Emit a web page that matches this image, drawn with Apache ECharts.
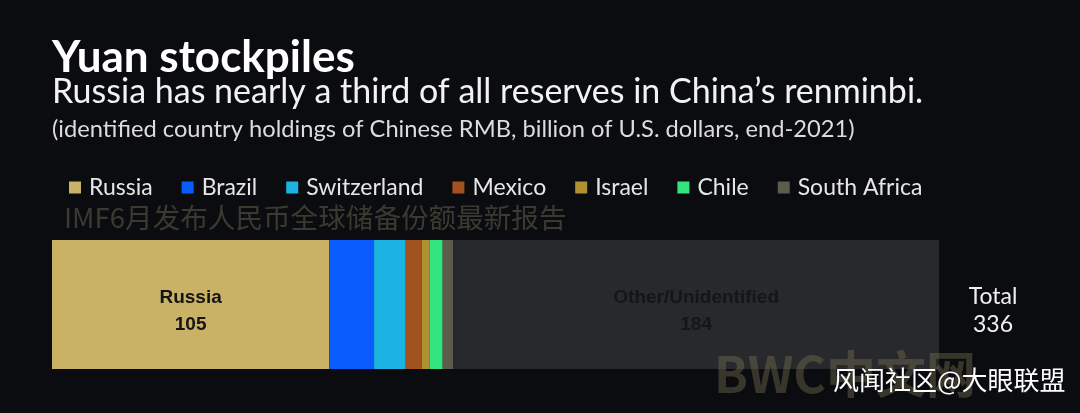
<!DOCTYPE html>
<html>
<head>
<meta charset="utf-8">
<script src="https://cdn.jsdelivr.net/npm/echarts@6/dist/echarts.min.js"></script>
<style>
html,body{margin:0;padding:0;background:#0b0c10;}
#chart{width:1080px;height:413px;}
</style>
</head>
<body>
<div id="chart"></div>
<script>
const categories = ['Russia', 'Brazil', 'Switzerland', 'Mexico', 'Israel', 'Chile', 'South Africa', 'Other/Unidentified'];
const values = [105, 17, 12, 6, 3, 5, 4, 184];
const colors = ['#c9b165', '#0b5cff', '#1bb3e3', '#a2521f', '#b1912f', '#34e57f', '#5d5b49', '#28292c'];
const legendNames = categories.slice(0, 7);
const titleText = 'Yuan stockpiles';
const subtitleText = 'Russia has nearly a third of all reserves in China\u2019s renminbi.';
const noteText = '(identified country holdings of Chinese RMB, billion of U.S. dollars, end-2021)';
const watermark1 = 'IMF6月发布人民币全球储备份额最新报告';
const watermark2 = 'BWC中文网';
const credit = '风闻社区@大眼联盟';

const total = values.reduce((a, b) => a + b, 0);
const FONT = 'Lato';

const series = categories.map((name, i) => {
  const s = {
    name: name,
    type: 'bar',
    stack: 'all',
    data: [values[i]],
    itemStyle: { color: colors[i] },
    barCategoryGap: '0%',
    silent: true,
    label: { show: false }
  };
  if (i === 0 || i === categories.length - 1) {
    s.label = { show: true, position: 'inside', offset: [0, 7], formatter: '{a}\n{c}',
      color: i === 0 ? '#141414' : '#15161a',
      fontFamily: 'Liberation Sans', fontWeight: 'bold', fontSize: 19, lineHeight: 27 };
  }
  return s;
});

const chart = echarts.init(document.getElementById('chart'));
chart.setOption({
  backgroundColor: '#0b0c10',
  animation: false,
  grid: { left: 52, right: 141, top: 240, bottom: 44 },
  xAxis: { type: 'value', min: 0, max: total, show: false },
  yAxis: { type: 'category', data: ['holdings'], show: false },
  legend: {
    data: legendNames,
    left: 64, top: 171,
    icon: 'rect', itemWidth: 12, itemHeight: 12, itemGap: 29,
    textStyle: { color: '#e6e6e6', fontFamily: FONT, fontSize: 23, padding: [0, 0, 0, 3] }
  },
  graphic: [
    { type: 'text', left: 52, top: 36, style: { text: titleText, fill: '#ffffff', font: 'bold 44px ' + FONT } },
    { type: 'text', left: 52, top: 75, style: { text: subtitleText, fill: '#f2f2f2', font: '34px ' + FONT } },
    { type: 'text', left: 52, top: 117, style: { text: noteText, fill: '#dcdcdc', font: '23.7px ' + FONT } },
    { type: 'text', left: 64, top: 204, style: { text: watermark1, fill: '#3b3a31', font: '27.6px "Noto Sans CJK SC"' } },
    { type: 'text', x: 993, y: 297, style: { text: 'Total', fill: '#f0f0f0', font: '23px ' + FONT, align: 'center', verticalAlign: 'middle' } },
    { type: 'text', x: 993, y: 325, style: { text: String(total), fill: '#f0f0f0', font: '23px ' + FONT, align: 'center', verticalAlign: 'middle' } },
    { type: 'text', left: 714, top: 349, z: 100, style: { text: watermark2, fill: 'rgba(120,112,80,0.42)', font: 'bold 50px "Noto Sans CJK SC"' } },
    { type: 'text', left: 833, top: 367, z: 101, style: { text: credit, fill: '#ffffff', font: '26px "Noto Sans CJK SC"' } }
  ],
  series: series
});
</script>
</body>
</html>
